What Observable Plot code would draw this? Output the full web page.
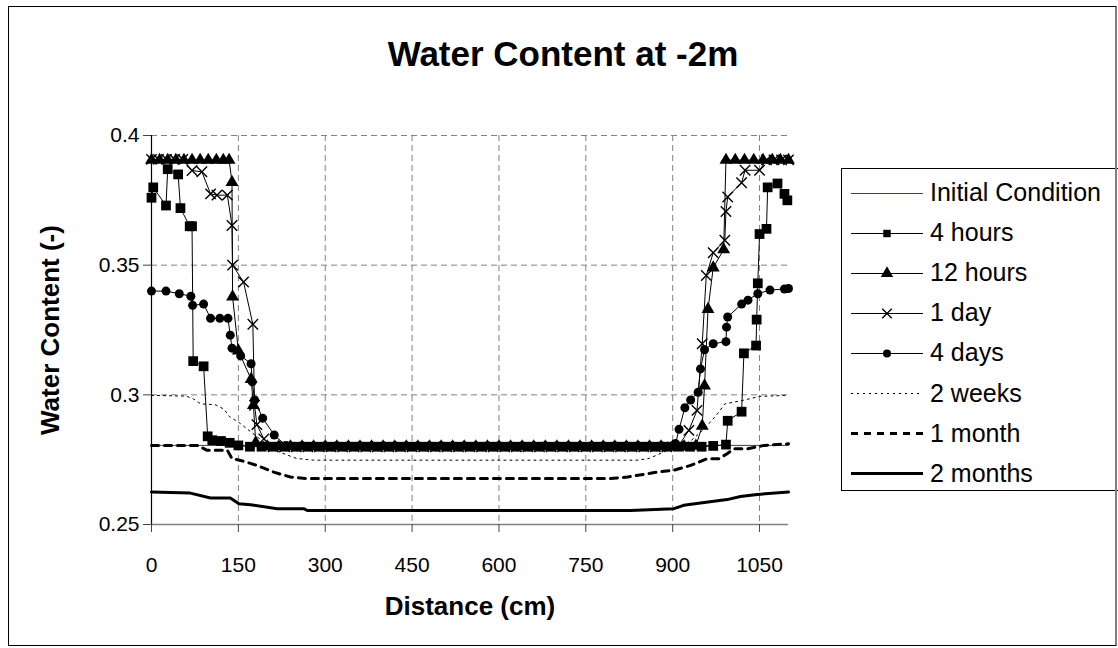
<!DOCTYPE html>
<html><head><meta charset="utf-8">
<script src="https://cdn.jsdelivr.net/npm/d3@7"></script>
<script src="https://cdn.jsdelivr.net/npm/@observablehq/plot@0.6"></script>
<style>
body{margin:0;background:#fff;font-family:Arial,"Liberation Sans",sans-serif;}
#wrap{position:relative;width:1118px;height:648px;overflow:hidden;}
#chart{position:absolute;left:0;top:0;}
#border{position:absolute;left:8px;top:6px;width:1106px;height:638px;border:1px solid #000;border-right:2px solid #808080;pointer-events:none;}
#legend{position:absolute;left:841px;top:168px;width:280px;height:321px;border:1px solid #000;background:#fff;}
.item{position:absolute;left:8px;height:24px;display:flex;align-items:center;font-size:25px;color:#000;white-space:nowrap;}
.item svg{margin-right:6px;}
</style></head><body>
<div id="wrap"><div id="chart"></div><div id="legend"></div><div id="border"></div></div>
<script>
// ---- data (distance cm, water content -) ----
const xTicks = [0, 150, 300, 450, 600, 750, 900, 1050];
const yTicks = [0.25, 0.3, 0.35, 0.4];
const yTickLabels = ["0.25", "0.3", "0.35", "0.4"];
const seriesNames = ["Initial Condition", "4 hours", "12 hours", "1 day", "4 days", "2 weeks", "1 month", "2 months"];

const initialCondition = [[0,0.2805],[1100,0.2805]];

const hours4 = [[0,0.376],[3,0.380],[25,0.373],[28,0.387],[46,0.385],[50,0.372],[66,0.365],[70,0.365],[72,0.313],[90,0.311],[97,0.284],[105,0.2825],[120,0.2822],[135,0.2815],
 [150,0.2805],[170,0.2800],[190,0.2800],[210,0.2800],[230,0.2800],[250,0.2800],[270,0.2800],[290,0.2800],[310,0.2800],[330,0.2800],[350,0.2800],[370,0.2800],[390,0.2800],[410,0.2800],[430,0.2800],[450,0.2800],[470,0.2800],[490,0.2800],[510,0.2800],[530,0.2800],[550,0.2800],[570,0.2800],[590,0.2800],[610,0.2800],[630,0.2800],[650,0.2800],[670,0.2800],[690,0.2800],[710,0.2800],[730,0.2800],[750,0.2800],[770,0.2800],[790,0.2800],[810,0.2800],[830,0.2800],[850,0.2800],[870,0.2800],[890,0.2800],[910,0.2800],[930,0.2800],[950,0.2800],[970,0.2803],
 [992,0.2808],[995,0.290],[1019,0.2935],[1023,0.316],[1044,0.319],[1045,0.329],[1047,0.343],[1050,0.362],[1062,0.364],[1064,0.380],[1081,0.3815],[1093,0.3775],[1098,0.375]];

const hours12 = [[0,0.3905],[14,0.3905],[28,0.3905],[42,0.3905],[56,0.3905],[70,0.3905],[84,0.3905],[98,0.3905],[112,0.3905],[124,0.3905],[134,0.3905],[139,0.382],[140,0.3378],[150,0.317],[172,0.306],[176,0.296],[180,0.2815],
 [200,0.2800],[220,0.2800],[240,0.2800],[260,0.2800],[280,0.2800],[300,0.2800],[320,0.2800],[340,0.2800],[360,0.2800],[380,0.2800],[400,0.2800],[420,0.2800],[440,0.2800],[460,0.2800],[480,0.2800],[500,0.2800],[520,0.2800],[540,0.2800],[560,0.2800],[580,0.2800],[600,0.2800],[620,0.2800],[640,0.2800],[660,0.2800],[680,0.2800],[700,0.2800],[720,0.2800],[740,0.2800],[760,0.2800],[780,0.2800],[800,0.2800],[820,0.2800],[840,0.2800],[860,0.2800],[880,0.2800],[900,0.2800],[920,0.2800],[940,0.2803],
 [951,0.288],[955,0.3035],[961,0.333],[970,0.349],[988,0.356],[992,0.3905],[1008,0.3905],[1024,0.3905],[1040,0.3905],[1056,0.3905],[1072,0.3905],[1086,0.3905],[1100,0.3905]];

const day1 = [[0,0.3908],[12,0.3908],[26,0.3908],[40,0.3908],[54,0.3908],[70,0.3865],[87,0.386],[102,0.3775],[113,0.377],[131,0.377],[139,0.3653],[140,0.350],[159,0.3435],[175,0.3272],[178,0.296],[182,0.2885],[194,0.283],
 [210,0.2800],[230,0.2800],[250,0.2800],[270,0.2800],[290,0.2800],[310,0.2800],[330,0.2800],[350,0.2800],[370,0.2800],[390,0.2800],[410,0.2800],[430,0.2800],[450,0.2800],[470,0.2800],[490,0.2800],[510,0.2800],[530,0.2800],[550,0.2800],[570,0.2800],[590,0.2800],[610,0.2800],[630,0.2800],[650,0.2800],[670,0.2800],[690,0.2800],[710,0.2800],[730,0.2800],[750,0.2800],[770,0.2800],[790,0.2800],[810,0.2800],[830,0.2800],[850,0.2800],[870,0.2800],[890,0.2800],[910,0.2803],
 [928,0.2863],[942,0.294],[951,0.3197],[958,0.346],[970,0.3548],[990,0.3596],[992,0.3707],[995,0.3763],[1019,0.3818],[1025,0.3866],[1050,0.3866],[1062,0.3906],[1075,0.3906],[1088,0.3906],[1100,0.3906]];

const days4 = [[0,0.340],[25,0.340],[48,0.339],[68,0.338],[71,0.3345],[90,0.335],[102,0.3295],[118,0.3295],[132,0.3295],[136,0.323],[139,0.318],[154,0.315],[172,0.312],[174,0.305],[178,0.298],[192,0.291],[212,0.2845],[232,0.2805],
 [252,0.2800],[272,0.2800],[292,0.2800],[312,0.2800],[332,0.2800],[352,0.2800],[372,0.2800],[392,0.2800],[412,0.2800],[432,0.2800],[452,0.2800],[472,0.2800],[492,0.2800],[512,0.2800],[532,0.2800],[552,0.2800],[572,0.2800],[592,0.2800],[612,0.2800],[632,0.2800],[652,0.2800],[672,0.2800],[692,0.2800],[712,0.2800],[732,0.2800],[752,0.2800],[772,0.2800],[792,0.2800],[812,0.2800],[832,0.2800],[852,0.2800],[872,0.2800],[892,0.2802],
 [905,0.2812],[911,0.2867],[921,0.295],[931,0.298],[944,0.301],[948,0.310],[955,0.3174],[970,0.3197],[992,0.3205],[993,0.3261],[995,0.330],[1019,0.335],[1030,0.3365],[1047,0.339],[1068,0.3404],[1093,0.3408],[1100,0.341]];

const weeks2 = [[0,0.2998],[60,0.2995],[72,0.2985],[85,0.2965],[110,0.2962],[125,0.2945],[135,0.2915],[150,0.2895],[170,0.286],[190,0.2825],[220,0.278],[250,0.2755],[280,0.2748],[840,0.2748],[860,0.2755],[880,0.2775],[900,0.2795],[930,0.282],[955,0.287],[975,0.292],[990,0.2965],[1020,0.2978],[1050,0.2994],[1100,0.2998]];

const month1 = [[0,0.2805],[80,0.2805],[96,0.2786],[131,0.2786],[139,0.2754],[154,0.2747],[182,0.2728],[211,0.2702],[240,0.2683],[269,0.2677],[793,0.2677],[822,0.2683],[873,0.2702],[902,0.2709],[931,0.2728],[960,0.2754],[980,0.2754],[994,0.2773],[1006,0.2792],[1029,0.2792],[1058,0.2805],[1100,0.2811]];

const months2 = [[0,0.2625],[67,0.2621],[102,0.2602],[136,0.2602],[151,0.258],[171,0.2576],[217,0.2561],[263,0.2561],[269,0.2554],[827,0.2554],[902,0.2561],[919,0.2574],[948,0.2583],[994,0.2596],[1017,0.2608],[1046,0.2616],[1100,0.2625]];

// ---- styles ----
const FONT = 'Arial, "Liberation Sans", sans-serif';
const styles = {
  "Initial Condition": {data: initialCondition, stroke: "#1e5a1e", strokeWidth: 1},
  "4 hours": {data: hours4, stroke: "#000", strokeWidth: 1, symbol: "square", r: 5.5, lr: 4.2},
  "12 hours": {data: hours12, stroke: "#000", strokeWidth: 1, symbol: "triangle", r: 4.8, lr: 4.6},
  "1 day": {data: day1, stroke: "#000", strokeWidth: 1, symbol: "times", r: 4.8, lr: 4.4},
  "4 days": {data: days4, stroke: "#000", strokeWidth: 1, symbol: "circle", r: 4.5, lr: 4},
  "2 weeks": {data: weeks2, stroke: "#000", strokeWidth: 1, dash: "2,4"},
  "1 month": {data: month1, stroke: "#000", strokeWidth: 3, dash: "7,6"},
  "2 months": {data: months2, stroke: "#000", strokeWidth: 3}
};

const marks = [
  Plot.gridX(xTicks.filter(d => d > 0), {stroke: "#808080", strokeOpacity: 1, strokeDasharray: "6,4"}),
  Plot.gridY(yTicks.filter(d => d > 0.25), {stroke: "#808080", strokeOpacity: 1, strokeDasharray: "6,4", x1: 0, x2: 1100}),
  Plot.ruleY([0.25], {stroke: "#808080", strokeWidth: 1.5}),
  Plot.ruleX([0], {stroke: "#000", strokeWidth: 1.2}),
  Plot.axisX(xTicks, {tickSize: 8, tickPadding: 25, fontSize: 21, tickFormat: d => `${d}`, label: null, stroke: "#444"}),
  Plot.axisY(yTicks, {tickSize: 8, tickPadding: 4, fontSize: 21, tickFormat: d => yTickLabels[yTicks.indexOf(d)], label: null, stroke: "#444"})
];

for (const name of seriesNames) {
  const s = styles[name];
  marks.push(Plot.line(s.data, {x: d => d[0], y: d => d[1], stroke: s.stroke, strokeWidth: s.strokeWidth, strokeDasharray: s.dash, curve: "linear"}));
  if (s.symbol) {
    const stroked = s.symbol === "times";
    marks.push(Plot.dot(s.data, {x: d => d[0], y: d => d[1], symbol: s.symbol, r: s.r,
      fill: stroked ? "none" : "#000", stroke: stroked ? "#000" : "none", strokeWidth: stroked ? 1.4 : 0}));
  }
}

marks.push(
  Plot.text(["Water Content at -2m"], {frameAnchor: "top", lineAnchor: "middle", dx: 93, dy: -81, fontSize: 35, fontWeight: "bold", fill: "#000"}),
  Plot.text(["Distance (cm)"], {frameAnchor: "bottom", lineAnchor: "middle", dy: 82, fontSize: 26, fontWeight: "bold", fill: "#000"}),
  Plot.text(["Water Content (-)"], {frameAnchor: "left", textAnchor: "middle", lineAnchor: "middle", dx: -101, rotate: -90, fontSize: 26, fontWeight: "bold", fill: "#000"})
);

const chart = Plot.plot({
  width: 1118, height: 648,
  marginLeft: 151, marginRight: 330, marginTop: 135, marginBottom: 124,
  x: {domain: [0, 1100]},
  y: {domain: [0.25, 0.4]},
  style: {fontFamily: FONT, background: "#fff", color: "#000"},
  marks
});
document.getElementById("chart").appendChild(chart);

// ---- legend ----
const legend = d3.select("#legend");
seriesNames.forEach((name, i) => {
  const s = styles[name];
  const row = legend.append("div").attr("class", "item").style("top", (11.5 + i * 40.1) + "px");
  const svg = row.append("svg").attr("width", 74).attr("height", 24);
  svg.append("line").attr("x1", 1).attr("x2", 73).attr("y1", 12.5).attr("y2", 12.5)
    .attr("stroke", s.stroke).attr("stroke-width", s.strokeWidth).attr("stroke-dasharray", s.dash || null);
  if (s.symbol) {
    const sym = {square: d3.symbolSquare, triangle: d3.symbolTriangle, times: d3.symbolTimes, circle: d3.symbolCircle}[s.symbol];
    const stroked = s.symbol === "times";
    svg.append("path").attr("transform", "translate(37,12.5)")
      .attr("d", d3.symbol(sym, Math.PI * s.lr * s.lr)())
      .attr("fill", stroked ? "none" : "#000").attr("stroke", stroked ? "#000" : "none").attr("stroke-width", 1.4);
  }
  row.append("span").text(name);
});
</script>
</body></html>
